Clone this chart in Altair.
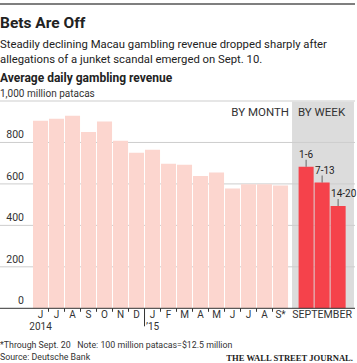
import altair as alt
import pandas as pd

# ---- data ----
month_labels = ["J", "J", "A", "S", "O", "N", "D", "J", "F", "M", "A", "M", "J", "J", "A", "S*"]
month_values = [905, 914, 929, 850, 901, 808, 750, 765, 697, 692, 638, 655, 578, 599, 599, 592]
week_labels = ["1-6", "7-13", "14-20"]
week_values = [683, 607, 494]
y_ticks = [0, 200, 400, 600, 800]
grid_values = [200, 400, 600, 800, 1000]
year_labels = ["2014", "\u201915"]
year_month_index = [0, 7]

FONT = "Roboto"
NARROW = "Liberation Sans Narrow, Roboto"
W, H = 357, 207.3
TOP = 101
BAR_W = 0.94  # fraction of a month slot

months = pd.DataFrame({
    "label": month_labels,
    "value": month_values,
    "slot": list(range(len(month_labels))),
})
months["slot2"] = months["slot"] + BAR_W
months["mid"] = months["slot"] + BAR_W / 2

week_start = len(month_labels) + 0.6
weeks = pd.DataFrame({
    "label": week_labels,
    "value": week_values,
    "slot": [week_start + i for i in range(len(week_labels))],
})
weeks["slot2"] = weeks["slot"] + BAR_W
weeks["mid"] = weeks["slot"] + BAR_W / 2

bounds = [i - 0.03 for i in range(1, len(month_labels))]
short_b = pd.DataFrame({"b": [b for i, b in enumerate(bounds, 1) if i != 7]})
long_b = pd.DataFrame({"b": [b for i, b in enumerate(bounds, 1) if i == 7]})

years = pd.DataFrame({"label": year_labels, "mid": [months["mid"][i] for i in year_month_index]})

xs = alt.Scale(domain=[-2.0625, 20.25], nice=False, zero=False)
ys = alt.Scale(domain=[0, 1000], nice=False)

one = alt.InlineData(values=[{"a": 1}])


def label(text, x, y, size, weight="normal", font=FONT, color="#222", align="left"):
    return alt.Chart(one).mark_text(
        text=text, align=align, baseline="alphabetic", fontSize=size,
        fontWeight=weight, font=font, color=color
    ).encode(x=alt.value(x), y=alt.value(y))


# gray "by week" background
bg = pd.DataFrame({"x": [weeks["slot"].min() - 0.41], "x2": [weeks["slot2"].max() + 0.52]})
gray = alt.Chart(bg).mark_rect(color="#dcdcdc").encode(
    x=alt.X("x:Q", scale=xs, axis=None), x2="x2:Q",
    y=alt.value(0.8), y2=alt.value(H)
)

grid = alt.Chart(pd.DataFrame({"v": grid_values})).mark_rule(color="#cdcdcd", strokeWidth=1).encode(
    y=alt.Y("v:Q", scale=ys, axis=None), x=alt.value(0), x2=alt.value(355)
)

month_bars = alt.Chart(months).mark_rect(color="#fcd6cf").encode(
    x=alt.X("slot:Q", scale=xs, axis=None), x2="slot2:Q",
    y=alt.Y("value:Q", scale=ys, axis=None), y2=alt.datum(0)
)
week_bars = alt.Chart(weeks).mark_rect(color="#f5424b").encode(
    x=alt.X("slot:Q", scale=xs, axis=None), x2="slot2:Q",
    y=alt.Y("value:Q", scale=ys, axis=None), y2=alt.datum(0)
)
week_ticks = alt.Chart(weeks).mark_tick(orient="vertical", size=7, thickness=1, color="#333", yOffset=-3.5).encode(
    x=alt.X("mid:Q", scale=xs, axis=None), y=alt.Y("value:Q", scale=ys, axis=None)
)
week_text = alt.Chart(weeks).mark_text(align="left", baseline="alphabetic", dx=0.5, dy=-8.5,
                                       fontSize=10, font=FONT, color="#222").encode(
    x=alt.X("slot:Q", scale=xs, axis=None), y=alt.Y("value:Q", scale=ys, axis=None), text="label:N"
)

baseline = alt.Chart(one).mark_rule(color="#333", strokeWidth=1).encode(
    y=alt.value(H), x=alt.value(0), x2=alt.value(355)
)

ylab = alt.Chart(pd.DataFrame({"v": y_ticks})).mark_text(
    align="right", baseline="alphabetic", dy=-4, fontSize=10.5, font=FONT, color="#333"
).encode(y=alt.Y("v:Q", scale=ys, axis=None), x=alt.value(24), text="v:Q")

unit = alt.Chart(pd.DataFrame({"v": [1000]})).mark_text(
    align="left", baseline="alphabetic", dy=-4, fontSize=10, font=FONT, color="#333",
    text="1,000 million patacas"
).encode(y=alt.Y("v:Q", scale=ys, axis=None), x=alt.value(0))

xticks_s = alt.Chart(short_b).mark_rule(color="#333", strokeWidth=1).encode(
    x=alt.X("b:Q", scale=xs, axis=None), y=alt.value(H), y2=alt.value(H + 3.5)
)
xticks_l = alt.Chart(long_b).mark_rule(color="#333", strokeWidth=1).encode(
    x=alt.X("b:Q", scale=xs, axis=None), y=alt.value(H), y2=alt.value(H + 18)
)

mlab = alt.Chart(months).mark_text(align="center", baseline="alphabetic", fontSize=10, font=FONT, color="#333").encode(
    x=alt.X("mid:Q", scale=xs, axis=None), y=alt.value(H + 10), text="label:N"
)
ylabs = alt.Chart(years).mark_text(align="center", baseline="alphabetic", fontSize=10, font=FONT, color="#333").encode(
    x=alt.X("mid:Q", scale=xs, axis=None), y=alt.value(H + 22), text="label:N"
)
sept = alt.Chart(weeks.iloc[[1]]).mark_text(align="center", baseline="alphabetic", fontSize=10.6, font=FONT,
                                            color="#333", text="SEPTEMBER").encode(
    x=alt.X("mid:Q", scale=xs, axis=None), y=alt.value(H + 10)
)

top_rule = alt.Chart(one).mark_rule(color="#555", strokeWidth=1.5).encode(
    y=alt.value(4 - TOP), x=alt.value(0), x2=alt.value(355)
)

NB = "\u00a0"
texts = [
    label("Bets Are Off", 0, 28 - TOP, 15.5, weight="bold"),
    label("Steadily declining Macau gambling revenue dropped sharply after", 0, 48 - TOP, 11.3),
    label("allegations of a junket scandal emerged on Sept. 10.", 0, 63 - TOP, 11.3),
    label("Average daily gambling revenue", 0, 81.5 - TOP, 12, weight="bold"),
    label("BY MONTH", 289, 116 - TOP, 11.5, color="#333", align="right"),
    label("BY WEEK", 298, 116 - TOP, 11.5, color="#333"),
    label("*Through Sept. 20" + NB * 3 + "Note: 100 million patacas=$12.5 million", 0, 348 - TOP, 8.8,
          font=NARROW, color="#333"),
    label("Source: Deutsche Bank", 0, 360 - TOP, 8.8, font=NARROW, color="#333"),
    label("THE WALL STREET JOURNAL.", 353, 360.5 - TOP, 8.6, weight="bold", font="Liberation Serif",
          color="#222", align="right"),
]

chart = alt.layer(
    gray, grid, month_bars, week_bars, baseline, week_ticks, week_text,
    ylab, unit, xticks_s, xticks_l, mlab, ylabs, sept, top_rule, *texts
).properties(
    width=W, height=H,
    autosize=alt.AutoSizeParams(type="none"),
    padding={"left": 0, "top": TOP, "right": 0, "bottom": 363 - TOP - H},
).configure_view(stroke=None)

chart.save("out.html", embed_options={"renderer": "svg", "actions": False})
